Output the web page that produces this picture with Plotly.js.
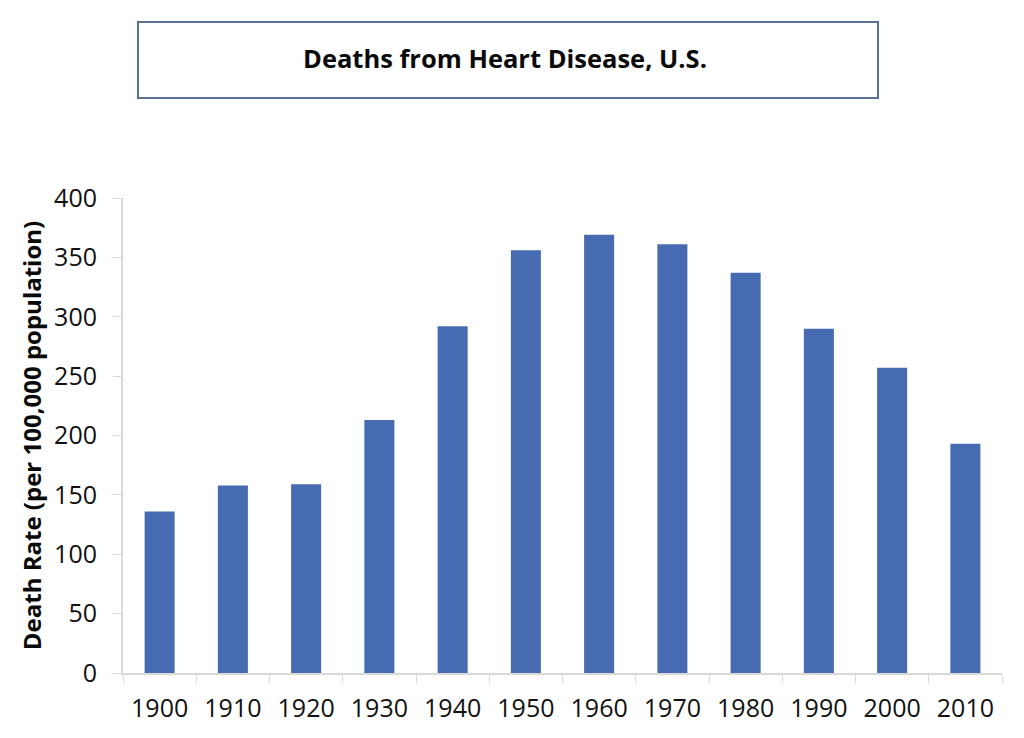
<!DOCTYPE html>
<html>
<head>
<meta charset="utf-8">
<script src="https://cdn.plot.ly/plotly-3.0.1.min.js"></script>
<style>
html,body{margin:0;padding:0;background:#fff;}
#chart{width:1024px;height:738px;}
</style>
</head>
<body>
<div id="chart"></div>
<script>
const years = ["1900","1910","1920","1930","1940","1950","1960","1970","1980","1990","2000","2010"];
const deathRates = [136, 158, 159, 213, 292, 356, 369, 361, 337, 290, 257, 193];
const yTicks = [0, 50, 100, 150, 200, 250, 300, 350, 400];

const chartTitle = "Deaths from Heart Disease, U.S.";
const yTitle = "Death Rate (per 100,000 population)";

const FONT = "'Open Sans', Lato, sans-serif";

const trace = {
  type: "bar",
  x: years,
  y: deathRates,
  marker: {color: "#466BB0", line: {width: 0}},
  hoverinfo: "x+y"
};

const layout = {
  width: 1024,
  height: 738,
  margin: {l: 123, r: 22, t: 198, b: 65},
  paper_bgcolor: "#ffffff",
  plot_bgcolor: "#ffffff",
  bargap: 0.59,
  showlegend: false,
  font: {family: FONT, color: "#111111"},
  xaxis: {
    type: "category",
    tickson: "boundaries",
    ticks: "outside",
    ticklen: 8,
    tickcolor: "#d9d9d9",
    showline: true,
    linecolor: "#d9d9d9",
    linewidth: 2,
    showgrid: false,
    zeroline: false,
    tickfont: {family: FONT, size: 25, color: "#111111"},
    ticklabelstandoff: 12
  },
  yaxis: {
    range: [0, 400],
    tickvals: yTicks,
    ticktext: yTicks.map(String),
    ticks: "outside",
    ticklen: 8,
    tickcolor: "#d9d9d9",
    showline: true,
    linecolor: "#d9d9d9",
    linewidth: 2,
    showgrid: false,
    zeroline: false,
    ticklabelstandoff: 11,
    tickfont: {family: FONT, size: 25, color: "#111111"},
    title: {text: "<b>" + yTitle + "</b>", font: {family: FONT, size: 24, color: "#0a0a0a"}, standoff: 6}
  },
  shapes: [{
    type: "rect",
    xref: "paper", yref: "paper",
    x0: (138 - 123) / 879, x1: (878 - 123) / 879,
    y0: (673 - 98) / 475, y1: (673 - 22) / 475,
    line: {color: "#5B7096", width: 2},
    fillcolor: "rgba(0,0,0,0)"
  }],
  annotations: [{
    text: "<b>" + chartTitle + "</b>",
    xref: "paper", yref: "paper",
    x: (505 - 123) / 879, y: (673 - 58) / 475,
    xanchor: "center", yanchor: "middle",
    showarrow: false,
    font: {family: FONT, size: 25.5, color: "#0a0a0a"}
  }]
};

Plotly.newPlot("chart", [trace], layout, {displayModeBar: false, staticPlot: true});
</script>
</body>
</html>
